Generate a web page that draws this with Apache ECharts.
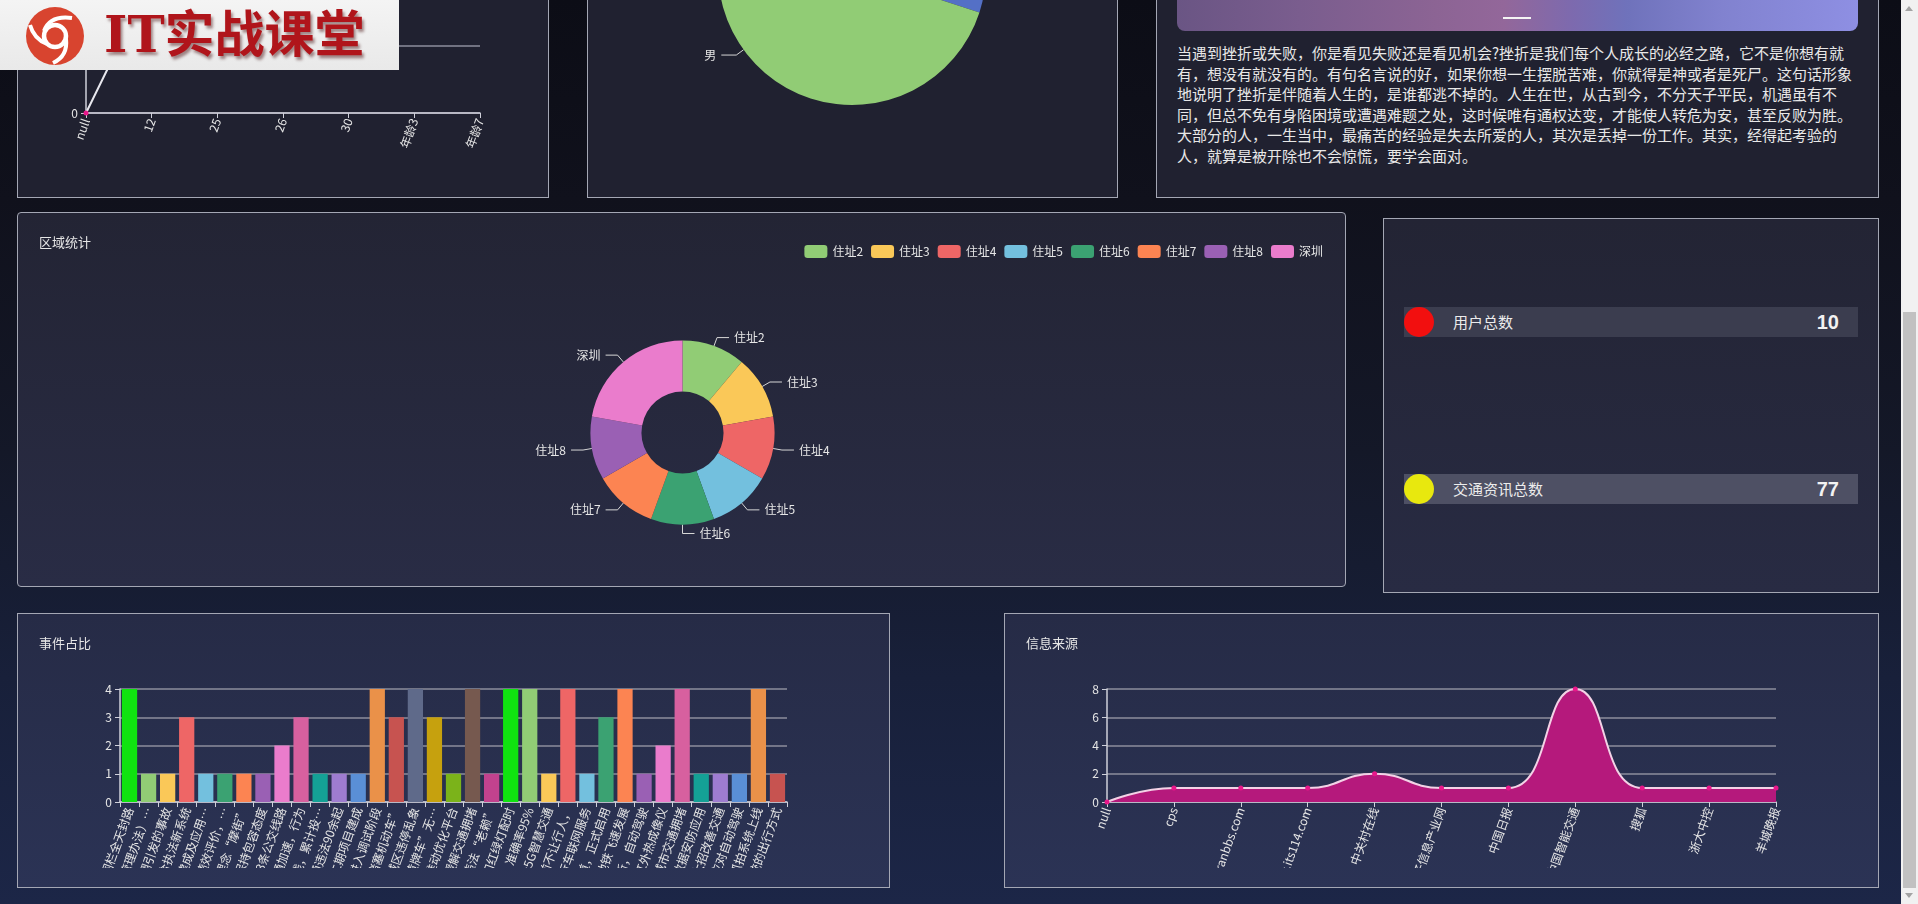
<!DOCTYPE html>
<html>
<head>
<meta charset="utf-8">
<script src="https://cdn.jsdelivr.net/npm/echarts@6.0.0/dist/echarts.min.js"></script>
<style>
html,body{margin:0;padding:0;width:1918px;height:904px;overflow:hidden;}
body{position:relative;font-family:'Noto Sans CJK SC',sans-serif;
  background:linear-gradient(180deg,#0c0d16 0%,#10111c 22%,#141828 50%,#18203a 75%,#1c2647 100%);}
.panel{position:absolute;box-sizing:border-box;border:1px solid #a4a7b4;}
.chart{position:absolute;left:0;top:0;}
.clip{position:absolute;left:0;top:0;overflow:hidden;}
.top{background:#202130;}
.mid{background:linear-gradient(180deg,#232434 0%,#292c45 100%);border-radius:4px;}
.stat{background:linear-gradient(180deg,#232434 0%,#282b43 100%);}
.bot{background:linear-gradient(180deg,#262b46 0%,#2b3355 100%);}
.bar{position:absolute;left:20px;width:454px;height:30px;}
.dot{position:absolute;left:0;top:0;width:30px;height:30px;border-radius:50%;}
.lbl{position:absolute;left:49px;top:0;line-height:30px;font-size:15px;color:#ececec;}
.val{position:absolute;right:19px;top:0;line-height:30px;font-size:20px;font-weight:bold;color:#f2f2f2;font-family:'Liberation Sans',Arial,sans-serif;}
#para{position:absolute;left:20px;top:222px;font-size:15px;line-height:20.6px;color:#e8e8e8;white-space:nowrap;}
#scroll{position:absolute;left:1901px;top:0;width:17px;height:904px;background:#f1f1f1;}
#thumb{position:absolute;left:2px;width:13px;top:312px;height:576px;background:#c1c1c1;}
#logo{position:absolute;left:0;top:0;width:399px;height:70px;background:linear-gradient(180deg,#f4f4f4,#e9e9e9);z-index:10;}
#logotext{position:absolute;left:104px;top:0;line-height:70px;font-size:50px;font-weight:bold;color:#b0151b;
  font-family:'DejaVu Serif','Noto Sans CJK SC',serif;text-shadow:2px 3px 3px rgba(60,0,0,0.45);letter-spacing:0px;}
</style>
</head>
<body>

<div class="panel top" style="left:17px;top:-180px;width:532px;height:378px;">
  <div id="c_age" class="chart" style="width:530px;height:376px;"></div>
</div>
<div class="panel top" style="left:587px;top:-180px;width:531px;height:378px;">
  <div id="c_gender" class="chart" style="width:529px;height:376px;"></div>
</div>
<div class="panel top" style="left:1156px;top:-180px;width:723px;height:378px;">
  <div style="position:absolute;left:20px;top:40px;width:681px;height:170px;border-radius:8px;
    background:linear-gradient(90deg,#6a5584 0%,#7a5d8e 18%,#8c6494 38%,#93679a 48%,#7d6aae 58%,#6f72bb 66%,#8182cf 80%,#8e8fe3 100%);"></div>
  <div style="position:absolute;left:346px;top:196px;width:28px;height:2px;background:#f4f4f4;"></div>
  <div id="para">当遇到挫折或失败，你是看见失败还是看见机会?挫折是我们每个人成长的必经之路，它不是你想有就<br>有，想没有就没有的。有句名言说的好，如果你想一生摆脱苦难，你就得是神或者是死尸。这句话形象<br>地说明了挫折是伴随着人生的，是谁都逃不掉的。人生在世，从古到今，不分天子平民，机遇虽有不<br>同，但总不免有身陷困境或遭遇难题之处，这时候唯有通权达变，才能使人转危为安，甚至反败为胜。<br>大部分的人，一生当中，最痛苦的经验是失去所爱的人，其次是丢掉一份工作。其实，经得起考验的<br>人，就算是被开除也不会惊慌，要学会面对。</div>
</div>

<div class="panel mid" style="left:17px;top:212px;width:1329px;height:375px;">
  <div id="c_area" class="chart" style="width:1327px;height:373px;"></div>
</div>

<div class="panel stat" style="left:1383px;top:218px;width:496px;height:375px;">
  <div class="bar" style="top:88px;background:#3b3d4f;">
    <div class="dot" style="background:#f20f0f;"></div>
    <div class="lbl" id="s1l"></div><div class="val" id="s1v"></div>
  </div>
  <div class="bar" style="top:255px;background:#4e5064;">
    <div class="dot" style="background:#e8e80e;"></div>
    <div class="lbl" id="s2l"></div><div class="val" id="s2v"></div>
  </div>
</div>

<div class="panel bot" style="left:17px;top:613px;width:873px;height:275px;">
  <div class="clip" style="width:871px;height:254px;">
    <div id="c_event" class="chart" style="width:871px;height:420px;"></div>
  </div>
</div>
<div class="panel bot" style="left:1004px;top:613px;width:875px;height:275px;">
  <div class="clip" style="width:873px;height:254px;">
    <div id="c_source" class="chart" style="width:873px;height:420px;"></div>
  </div>
</div>

<div id="scroll">
  <div style="position:absolute;left:4px;top:6px;width:0;height:0;border-left:4.5px solid transparent;border-right:4.5px solid transparent;border-bottom:5px solid #a3a3a3;"></div>
  <div id="thumb"></div>
  <div style="position:absolute;left:4px;top:893px;width:0;height:0;border-left:4.5px solid transparent;border-right:4.5px solid transparent;border-top:5px solid #a3a3a3;"></div>
</div>

<div id="logo">
  <svg width="70" height="70" style="position:absolute;left:20px;top:1px;">
    <circle cx="35" cy="35" r="29" fill="#d8442f"/>
    <circle cx="35" cy="35" r="11" fill="none" stroke="#fff" stroke-width="4.5"/>
    <path d="M24 30 Q30 14 52 17" fill="none" stroke="#fff" stroke-width="4"/>
    <path d="M46 38 Q48 55 33 62" fill="none" stroke="#fff" stroke-width="4"/>
    <path d="M27 43 Q14 38 10 24" fill="none" stroke="#fff" stroke-width="4"/>
  </svg>
  <div id="logotext">IT实战课堂</div>
</div>

<script>
// ---------- data ----------
const ageCategories = ['null', '12', '25', '26', '30', '年龄3', '年龄7'];
const ageCounts = [0, 2, 2, 2, 2, 2, 2];

const genderNames = ['女', '男'];
const genderCounts = [3, 7];

const areaNames = ['住址2', '住址3', '住址4', '住址5', '住址6', '住址7', '住址8', '深圳'];
const areaCounts = [1, 1, 1, 1, 1, 1, 1, 2];

const statLabels = ['用户总数', '交通资讯总数'];
const statValues = [10, 77];

const eventLabels = [
  '道路施工设置围栏全天封路', '市交通局发布停车管理办法）…', '雨天路滑车辆侧翻引发的事故',
  '交警部门启用联合执法新系统', '城市智能交通系统建成及应用…', '道路交通运行状况绩效评价，…',
  '倡导绿色出行新理念“摩街”', '对新业态发展保持包容态度', '地铁施工影响附近83条公交线路',
  '推动智慧交通加速，行为', '新能源公交上线，累计投…', '夜查行动查处交通违法90余起',
  '快速路改造二期项目建成', '智能信号灯系统进入调试阶段', '共享单车乱停放“堵塞机动车”',
  '多部门联合整治城区违停乱象', '严查大型货车“黄牌车”无…', '依托大数据推动优化平台',
  '智能调度有效缓解交通拥堵', '联合惩戒交通违法“老赖”', '智能算法优化路口红绿灯配时',
  '违章识别系统上线，准确率95%', '全国首个5G智慧交通', '机动车在斑马线前不让行人，',
  '全面推行车联网服务', '首条公交专用道，正式启用', '轨道交通地铁飞速发展',
  '智能网联汽车迎来创新，自动驾驶', '检测站配备AI和红外热成像仪', '多措并举缓解城市交通拥堵',
  '交通大数据安防应用', '交管部门推出大招改善交通', '制定法规应对自动驾驶',
  '违停自动抓拍系统上线', '共享出行改变传统的出行方式'
];
const eventCounts = [4, 1, 1, 3, 1, 1, 1, 1, 2, 3, 1, 1, 1, 4, 3, 4, 3, 1, 4, 1,
                     4, 4, 1, 4, 1, 3, 4, 1, 2, 4, 1, 1, 1, 4, 1];

const sourceNames = ['null', 'cps', 'tranbbs.com', 'www.its114.com', '中关村在线', '中国电子信息产业网',
  '中国日报', '中国智能交通', '搜狐', '浙大中控', '羊城晚报'];
const sourceCounts = [0, 1, 1, 1, 2, 1, 1, 8, 1, 1, 1];

// ---------- styles ----------
const basePalette = ['#5470c6', '#91cc75', '#fac858', '#ee6666', '#73c0de', '#3ba272', '#fc8452', '#9a60b4', '#ea7ccc'];
const areaPalette = ['#91cc75', '#fac858', '#ee6666', '#73c0de', '#3ba272', '#fc8452', '#9a60b4', '#ea7ccc'];
const eventPalette = ['#10e310', '#91cc75', '#fac858', '#ee6666', '#73c0de', '#3ba272', '#fc8452', '#9a60b4',
  '#ea7ccc', '#d7609f', '#14a196', '#9e7cd0', '#5a8fd6', '#ea9149', '#c75350', '#5f6a8a', '#c6a10e', '#7bb31a',
  '#76594f', '#c2428e'];
const FONT = "'Noto Sans CJK SC','Microsoft YaHei',sans-serif";
const txt = '#e6e6e6';
const axisCol = '#cfd0da';
const splitCol = '#8c8e9d';

document.getElementById('s1l').textContent = statLabels[0];
document.getElementById('s1v').textContent = statValues[0];
document.getElementById('s2l').textContent = statLabels[1];
document.getElementById('s2v').textContent = statValues[1];

function titleOf(t) {
  return {text: t, left: 16, top: 18, textStyle: {color: txt, fontSize: 13, fontWeight: 'normal', fontFamily: FONT}};
}
function catAxis(data, gap) {
  return {type: 'category', data: data, boundaryGap: gap,
    axisLine: {show: true, lineStyle: {color: axisCol, width: 1.5}},
    axisTick: {show: true, lineStyle: {color: axisCol}},
    axisLabel: {color: txt, fontSize: 12, rotate: 70, interval: 0, fontFamily: FONT, margin: 6, hideOverlap: false},
    splitLine: {show: false}};
}
function valAxis(max, step) {
  return {type: 'value', min: 0, max: max, interval: step,
    axisLine: {show: true, lineStyle: {color: axisCol, width: 1.5}},
    axisTick: {show: true, lineStyle: {color: axisCol}},
    axisLabel: {color: txt, fontSize: 12, fontFamily: FONT},
    splitLine: {show: true, lineStyle: {color: splitCol, width: 1.5}}};
}

// age line chart
echarts.init(document.getElementById('c_age')).setOption({
  animation: false,
  textStyle: {fontFamily: FONT},
  grid: {left: 68, right: 68, top: 158, bottom: 84, outerBoundsMode: 'none'},
  xAxis: catAxis(ageCategories, false),
  yAxis: valAxis(2, 1),
  series: [{type: 'line', data: ageCounts, symbol: 'circle', symbolSize: 5,
    lineStyle: {color: '#e8e8ee', width: 2}, itemStyle: {color: '#e8178a'}}]
});

// gender pie
echarts.init(document.getElementById('c_gender')).setOption({
  animation: false,
  color: basePalette,
  textStyle: {fontFamily: FONT},
  series: [{type: 'pie', center: [264, 150], radius: 134, startAngle: 90,
    data: genderNames.map((n, i) => ({name: n, value: genderCounts[i]})),
    label: {color: txt, fontSize: 12, fontFamily: FONT},
    labelLine: {length: 9, length2: 15, lineStyle: {color: '#d6d6d6', width: 1}},
    itemStyle: {borderWidth: 0}}]
});

// area doughnut
echarts.init(document.getElementById('c_area')).setOption({
  animation: false,
  color: areaPalette,
  textStyle: {fontFamily: FONT},
  title: {text: '区域统计', left: 16, top: 18, textStyle: {color: txt, fontSize: 13, fontWeight: 'normal', fontFamily: FONT}},
  legend: {data: areaNames, right: 17, top: 27, icon: 'roundRect', itemWidth: 23, itemHeight: 13, itemGap: 8,
    textStyle: {color: txt, fontSize: 12, fontFamily: FONT}},
  series: [{type: 'pie', center: [664.5, 219.5], radius: [41, 92], startAngle: 90,
    data: areaNames.map((n, i) => ({name: n, value: areaCounts[i]})),
    label: {color: txt, fontSize: 12, fontFamily: FONT},
    labelLine: {length: 9, length2: 12, lineStyle: {color: '#d6d6d6', width: 1}},
    itemStyle: {borderWidth: 0}}]
});

// event bar chart (canvas is taller than the visible box; the long labels get cut at the box edge)
echarts.init(document.getElementById('c_event')).setOption({
  animation: false,
  color: eventPalette,
  textStyle: {fontFamily: FONT},
  title: titleOf('事件占比'),
  grid: {left: 102, right: 102, top: 75, bottom: 232},
  xAxis: catAxis(eventLabels, true),
  yAxis: valAxis(4, 1),
  series: [{type: 'bar', data: eventCounts, colorBy: 'data', barCategoryGap: '20%'}]
});

// source area line chart
echarts.init(document.getElementById('c_source')).setOption({
  animation: false,
  textStyle: {fontFamily: FONT},
  title: titleOf('信息来源'),
  grid: {left: 102, right: 102, top: 75, bottom: 232},
  xAxis: catAxis(sourceNames, false),
  yAxis: valAxis(8, 2),
  series: [{type: 'line', data: sourceCounts, smooth: true, symbol: 'circle', symbolSize: 5,
    lineStyle: {color: '#f3d2e6', width: 2}, itemStyle: {color: '#e8178a'},
    areaStyle: {color: '#b5197c', opacity: 1}}]
});
</script>
</body>
</html>
